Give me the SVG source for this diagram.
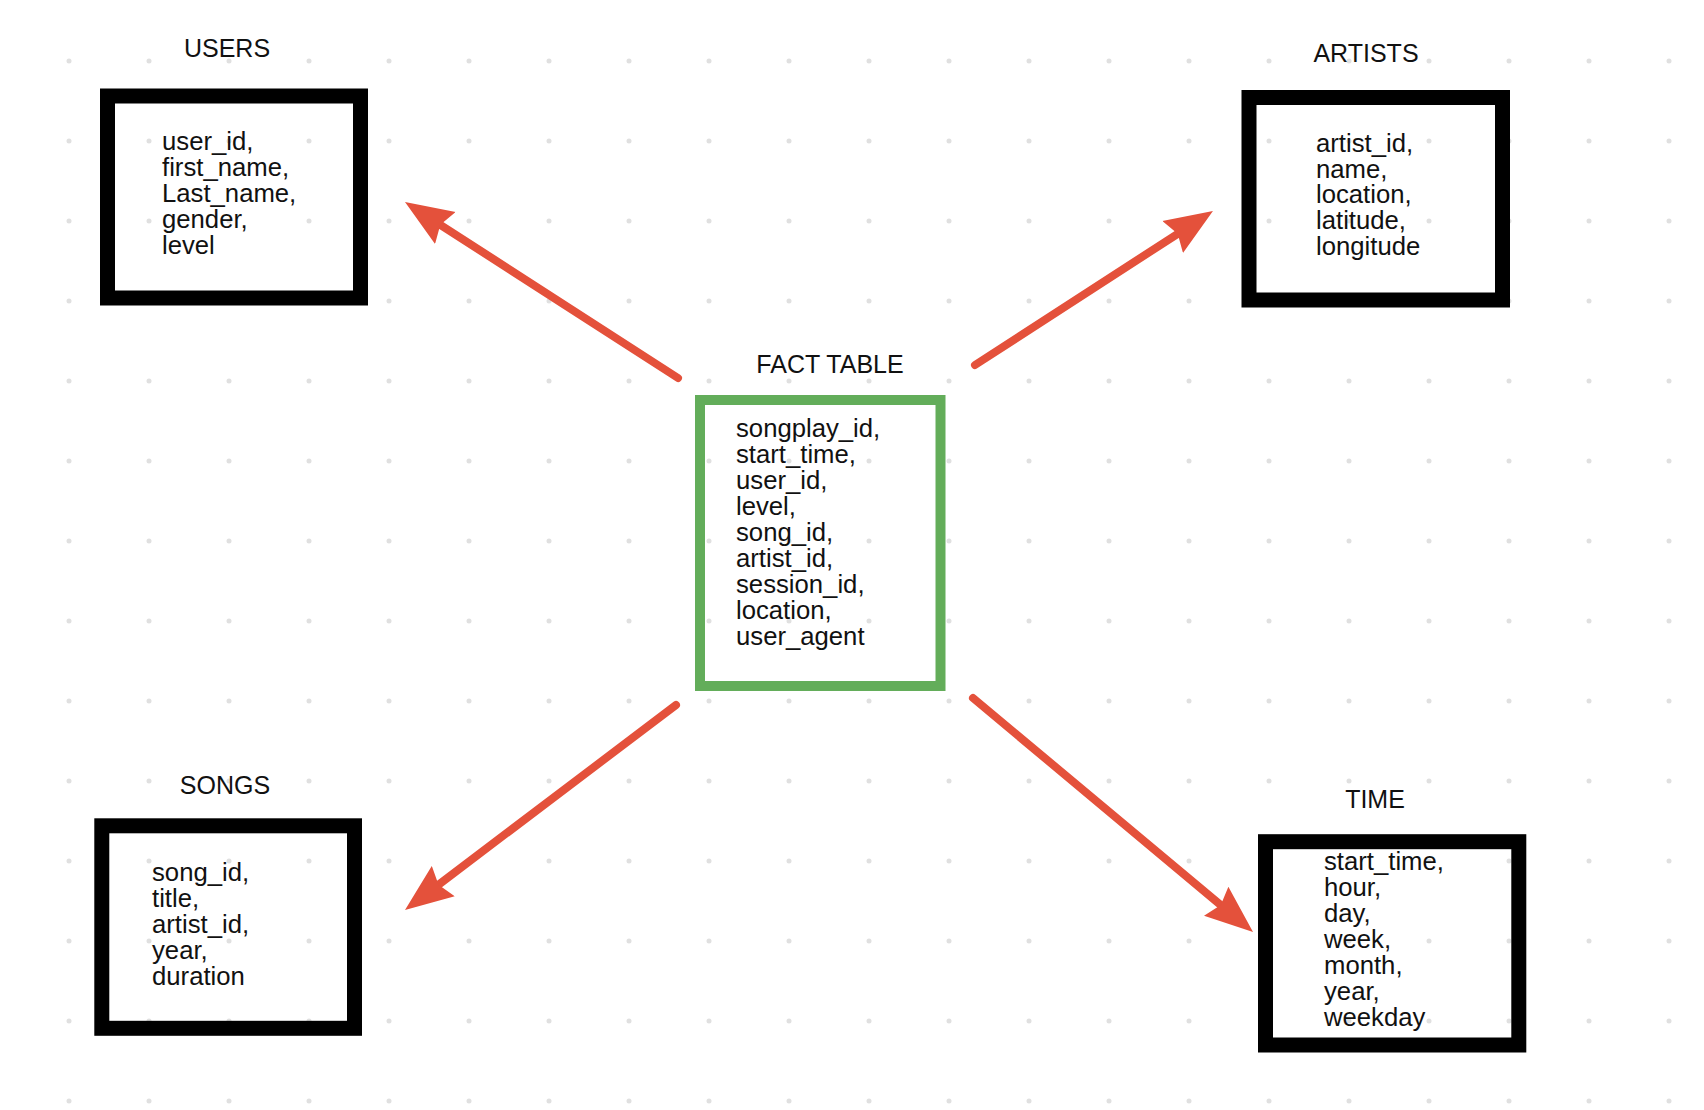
<svg xmlns="http://www.w3.org/2000/svg" width="1704" height="1110" viewBox="0 0 1704 1110">
  <style>
    .title { font-family: "Liberation Sans", Arial, sans-serif; font-size: 25px; fill: #111; text-anchor: middle; }
    .body { font-family: "Liberation Sans", Arial, sans-serif; font-size: 25.7px; fill: #111; }
    .dim { fill: none; stroke: #000; stroke-width: 15; }
    .fact { fill: none; stroke: #63ad5a; stroke-width: 10; }
    .conn { fill: none; stroke: #e4513b; stroke-width: 8; stroke-linecap: round; }
  </style>
  <defs>
    <pattern id="grid" patternUnits="userSpaceOnUse" x="29" y="21" width="80" height="80">
      <circle cx="40" cy="40" r="2.5" fill="#e0e0e0"/>
    </pattern>
    <marker id="head" markerUnits="userSpaceOnUse" viewBox="0 0 50 40" markerWidth="50" markerHeight="40" refX="6" refY="20" orient="auto">
      <path d="M48,20 L0,1 L6,20 L0,39 Z" fill="#e4513b"/>
    </marker>
  </defs>
  <rect width="1704" height="1110" fill="#fff"/>
  <rect width="1704" height="1110" fill="url(#grid)"/>

  <g id="connectors">
    <path class="conn" d="M678,378 L440.3,224.8" marker-end="url(#head)"/>
    <path class="conn" d="M975,365 L1177.7,233.8" marker-end="url(#head)"/>
    <path class="conn" d="M676,705 L438.5,884.7" marker-end="url(#head)"/>
    <path class="conn" d="M973,698 L1220.8,905.1" marker-end="url(#head)"/>
  </g>

  <g id="users">
    <text class="title" x="227" y="57">USERS</text>
    <rect class="dim" x="107.5" y="96" width="253" height="202"/>
    <text class="body" x="162" y="150">
      <tspan x="162" dy="0">user_id,</tspan>
      <tspan x="162" dy="26">first_name,</tspan>
      <tspan x="162" dy="26">Last_name,</tspan>
      <tspan x="162" dy="26">gender,</tspan>
      <tspan x="162" dy="26">level</tspan>
    </text>
  </g>

  <g id="artists">
    <text class="title" x="1366" y="62">ARTISTS</text>
    <rect class="dim" x="1249" y="97.5" width="253.5" height="202.5"/>
    <text class="body" x="1316" y="152">
      <tspan x="1316" dy="0">artist_id,</tspan>
      <tspan x="1316" dy="25.7">name,</tspan>
      <tspan x="1316" dy="25.7">location,</tspan>
      <tspan x="1316" dy="25.7">latitude,</tspan>
      <tspan x="1316" dy="25.7">longitude</tspan>
    </text>
  </g>

  <g id="fact-table">
    <text class="title" x="830" y="373">FACT TABLE</text>
    <rect class="fact" x="700" y="400" width="240.5" height="286"/>
    <text class="body" x="736" y="437">
      <tspan x="736" dy="0">songplay_id,</tspan>
      <tspan x="736" dy="26">start_time,</tspan>
      <tspan x="736" dy="26">user_id,</tspan>
      <tspan x="736" dy="26">level,</tspan>
      <tspan x="736" dy="26">song_id,</tspan>
      <tspan x="736" dy="26">artist_id,</tspan>
      <tspan x="736" dy="26">session_id,</tspan>
      <tspan x="736" dy="26">location,</tspan>
      <tspan x="736" dy="26">user_agent</tspan>
    </text>
  </g>

  <g id="songs">
    <text class="title" x="225" y="794">SONGS</text>
    <rect class="dim" x="101.8" y="825.8" width="252.7" height="202.5"/>
    <text class="body" x="152" y="881">
      <tspan x="152" dy="0">song_id,</tspan>
      <tspan x="152" dy="26">title,</tspan>
      <tspan x="152" dy="26">artist_id,</tspan>
      <tspan x="152" dy="26">year,</tspan>
      <tspan x="152" dy="26">duration</tspan>
    </text>
  </g>

  <g id="time">
    <text class="title" x="1375" y="808">TIME</text>
    <rect class="dim" x="1265.5" y="841.7" width="253.3" height="203.3"/>
    <text class="body" x="1324" y="870">
      <tspan x="1324" dy="0">start_time,</tspan>
      <tspan x="1324" dy="26">hour,</tspan>
      <tspan x="1324" dy="26">day,</tspan>
      <tspan x="1324" dy="26">week,</tspan>
      <tspan x="1324" dy="26">month,</tspan>
      <tspan x="1324" dy="26">year,</tspan>
      <tspan x="1324" dy="26">weekday</tspan>
    </text>
  </g>
</svg>
